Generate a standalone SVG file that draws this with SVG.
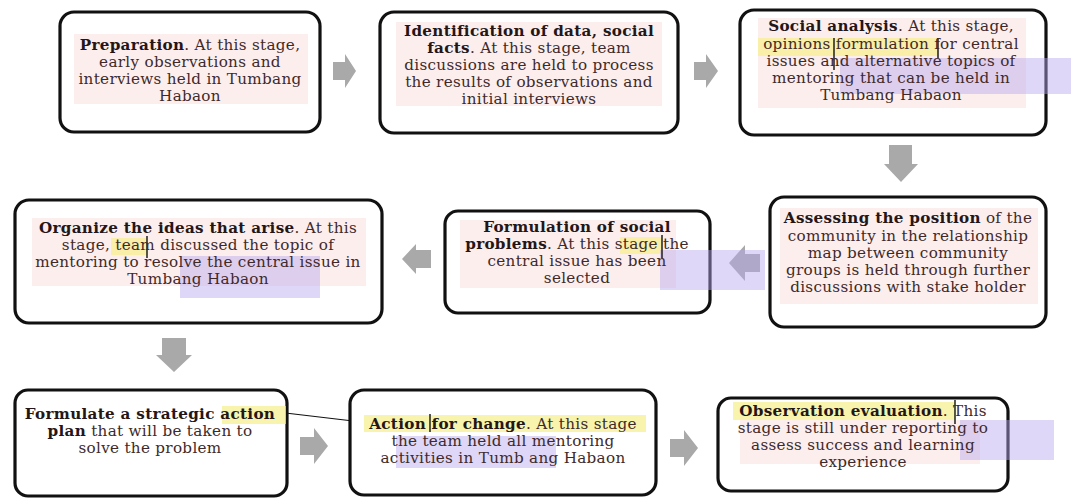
<svg xmlns="http://www.w3.org/2000/svg" width="1071" height="498" viewBox="0 0 1071 498">
  <style>
    .box { fill: #ffffff; stroke: #111111; stroke-width: 3.2; }
    .tint { fill: #fbe3e3; opacity: 0.6; }
    .hl-y { fill: #f7f08a; opacity: 0.7; }
    .hl-p { fill: #b9a6ee; opacity: 0.45; }
    .caret { stroke: #111111; stroke-width: 1.4; }
    .arrow { fill: #a9a9a9; }
    text { font-family: "DejaVu Serif", "Liberation Serif", serif; font-size: 15.2px; letter-spacing: 0.3px; fill: #3e2a2a; text-anchor: middle; }
    .b { font-weight: bold; fill: #241616; }
  </style>

  <rect width="1071" height="498" fill="#ffffff"/>

  <!-- flow arrows between stages -->
  <g id="connectors">
    <path class="arrow" d="M333,62 H345 V54 L356,71 L345,88 V80 H333 Z"/>
    <path class="arrow" d="M694,62 H706 V54 L718,71 L706,88 V80 H694 Z"/>
    <path class="arrow" d="M889,145 H912 V164 H918 L901,182 L884,164 H889 Z"/>
    <path class="arrow" d="M760,254 H745 V245 L729,263 L745,281 V272 H760 Z"/>
    <path class="arrow" d="M431,250 H416 V244 L402,259 L416,274 V268 H431 Z"/>
    <path class="arrow" d="M162,338 H186 V355 H192 L174,372 L156,355 H162 Z"/>
    <path class="arrow" d="M300,437 H314 V428 L328,446 L314,464 V455 H300 Z"/>
    <path class="arrow" d="M670,439 H684 V430 L698,448 L684,466 V457 H670 Z"/>
    <line x1="277" y1="412" x2="370" y2="423" stroke="#111111" stroke-width="1.2"/>
  </g>

  <g id="preparation">
    <rect class="box" x="60" y="12" width="260" height="120" rx="14"/>
    <rect class="tint" x="74" y="34" width="234" height="70"/>
    <text x="190" y="50"><tspan class="b">Preparation</tspan>. At this stage,</text>
    <text x="190" y="67">early observations and</text>
    <text x="190" y="84">interviews held in Tumbang</text>
    <text x="190" y="101">Habaon</text>
  </g>

  <g id="identification">
    <rect class="box" x="380" y="12" width="298" height="121" rx="14"/>
    <rect class="tint" x="396" y="22" width="266" height="84"/>
    <text x="529" y="36" class="b">Identification of data, social</text>
    <text x="529" y="53"><tspan class="b">facts</tspan>. At this stage, team</text>
    <text x="529" y="70">discussions are held to process</text>
    <text x="529" y="87">the results of observations and</text>
    <text x="529" y="104">initial interviews</text>
  </g>

  <g id="social-analysis">
    <rect class="box" x="740" y="10" width="306" height="125" rx="14"/>
    <rect class="tint" x="758" y="18" width="268" height="90"/>
    <rect class="hl-y" x="758" y="38" width="180" height="18"/>
    <rect class="hl-p" x="840" y="58" width="231" height="36"/>
    <line class="caret" x1="834" y1="38" x2="834" y2="70"/>
    <line class="caret" x1="938" y1="38" x2="938" y2="58"/>
    <text x="891" y="31"><tspan class="b">Social analysis</tspan>. At this stage,</text>
    <text x="891" y="49">opinions formulation for central</text>
    <text x="891" y="66">issues and alternative topics of</text>
    <text x="891" y="83">mentoring that can be held in</text>
    <text x="891" y="100">Tumbang Habaon</text>
  </g>

  <g id="assessing">
    <rect class="box" x="770" y="197" width="276" height="130" rx="14"/>
    <rect class="tint" x="780" y="208" width="258" height="96"/>
    <text x="908" y="223"><tspan class="b">Assessing the position</tspan> of the</text>
    <text x="908" y="241">community in the relationship</text>
    <text x="908" y="258">map between community</text>
    <text x="908" y="275">groups is held through further</text>
    <text x="908" y="292">discussions with stake holder</text>
  </g>

  <g id="social-problems">
    <rect class="box" x="445" y="211" width="265" height="102" rx="13"/>
    <rect class="tint" x="460" y="220" width="216" height="68"/>
    <rect class="hl-y" x="620" y="237" width="42" height="17"/>
    <rect class="hl-p" x="660" y="250" width="105" height="40"/>
    <line class="caret" x1="662" y1="235" x2="662" y2="258"/>
    <text x="577" y="232" class="b">Formulation of social</text>
    <text x="577" y="249"><tspan class="b">problems</tspan>. At this stage the</text>
    <text x="577" y="266">central issue has been</text>
    <text x="577" y="283">selected</text>
  </g>

  <g id="organize">
    <rect class="box" x="15" y="200" width="367" height="123" rx="14"/>
    <rect class="tint" x="32" y="218" width="334" height="68"/>
    <rect class="hl-y" x="111" y="238" width="36" height="17"/>
    <rect class="hl-p" x="180" y="256" width="140" height="42"/>
    <line class="caret" x1="147" y1="236" x2="147" y2="258"/>
    <text x="198" y="233"><tspan class="b">Organize the ideas that arise</tspan>. At this</text>
    <text x="198" y="250">stage, team discussed the topic of</text>
    <text x="198" y="267">mentoring to resolve the central issue in</text>
    <text x="198" y="284">Tumbang Habaon</text>
  </g>

  <g id="strategic-plan">
    <rect class="box" x="15" y="390" width="272" height="106" rx="13"/>
    <rect class="hl-y" x="222" y="406" width="64" height="18"/>
    <text x="150" y="419" class="b">Formulate a strategic action</text>
    <text x="150" y="436"><tspan class="b">plan</tspan> that will be taken to</text>
    <text x="150" y="453">solve the problem</text>
  </g>

  <g id="action-for-change">
    <rect class="box" x="350" y="390" width="306" height="105" rx="14"/>
    <rect class="hl-y" x="364" y="415" width="282" height="17"/>
    <rect class="hl-p" x="396" y="436" width="160" height="32"/>
    <line class="caret" x1="430" y1="414" x2="430" y2="432"/>
    <text x="503" y="429"><tspan class="b">Action for change</tspan>. At this stage</text>
    <text x="503" y="446">the team held  all mentoring</text>
    <text x="503" y="463">activities in Tumb ang Habaon</text>
  </g>

  <g id="observation">
    <rect class="box" x="718" y="398" width="290" height="93" rx="13"/>
    <rect class="hl-y" x="733" y="402" width="222" height="18"/>
    <rect class="tint" x="740" y="420" width="240" height="44"/>
    <rect class="hl-p" x="960" y="420" width="94" height="40"/>
    <line class="caret" x1="955" y1="400" x2="955" y2="424"/>
    <text x="863" y="416"><tspan class="b">Observation evaluation</tspan>. This</text>
    <text x="863" y="433">stage is still under reporting to</text>
    <text x="863" y="450">assess success and learning</text>
    <text x="863" y="467">experience</text>
  </g>
</svg>
